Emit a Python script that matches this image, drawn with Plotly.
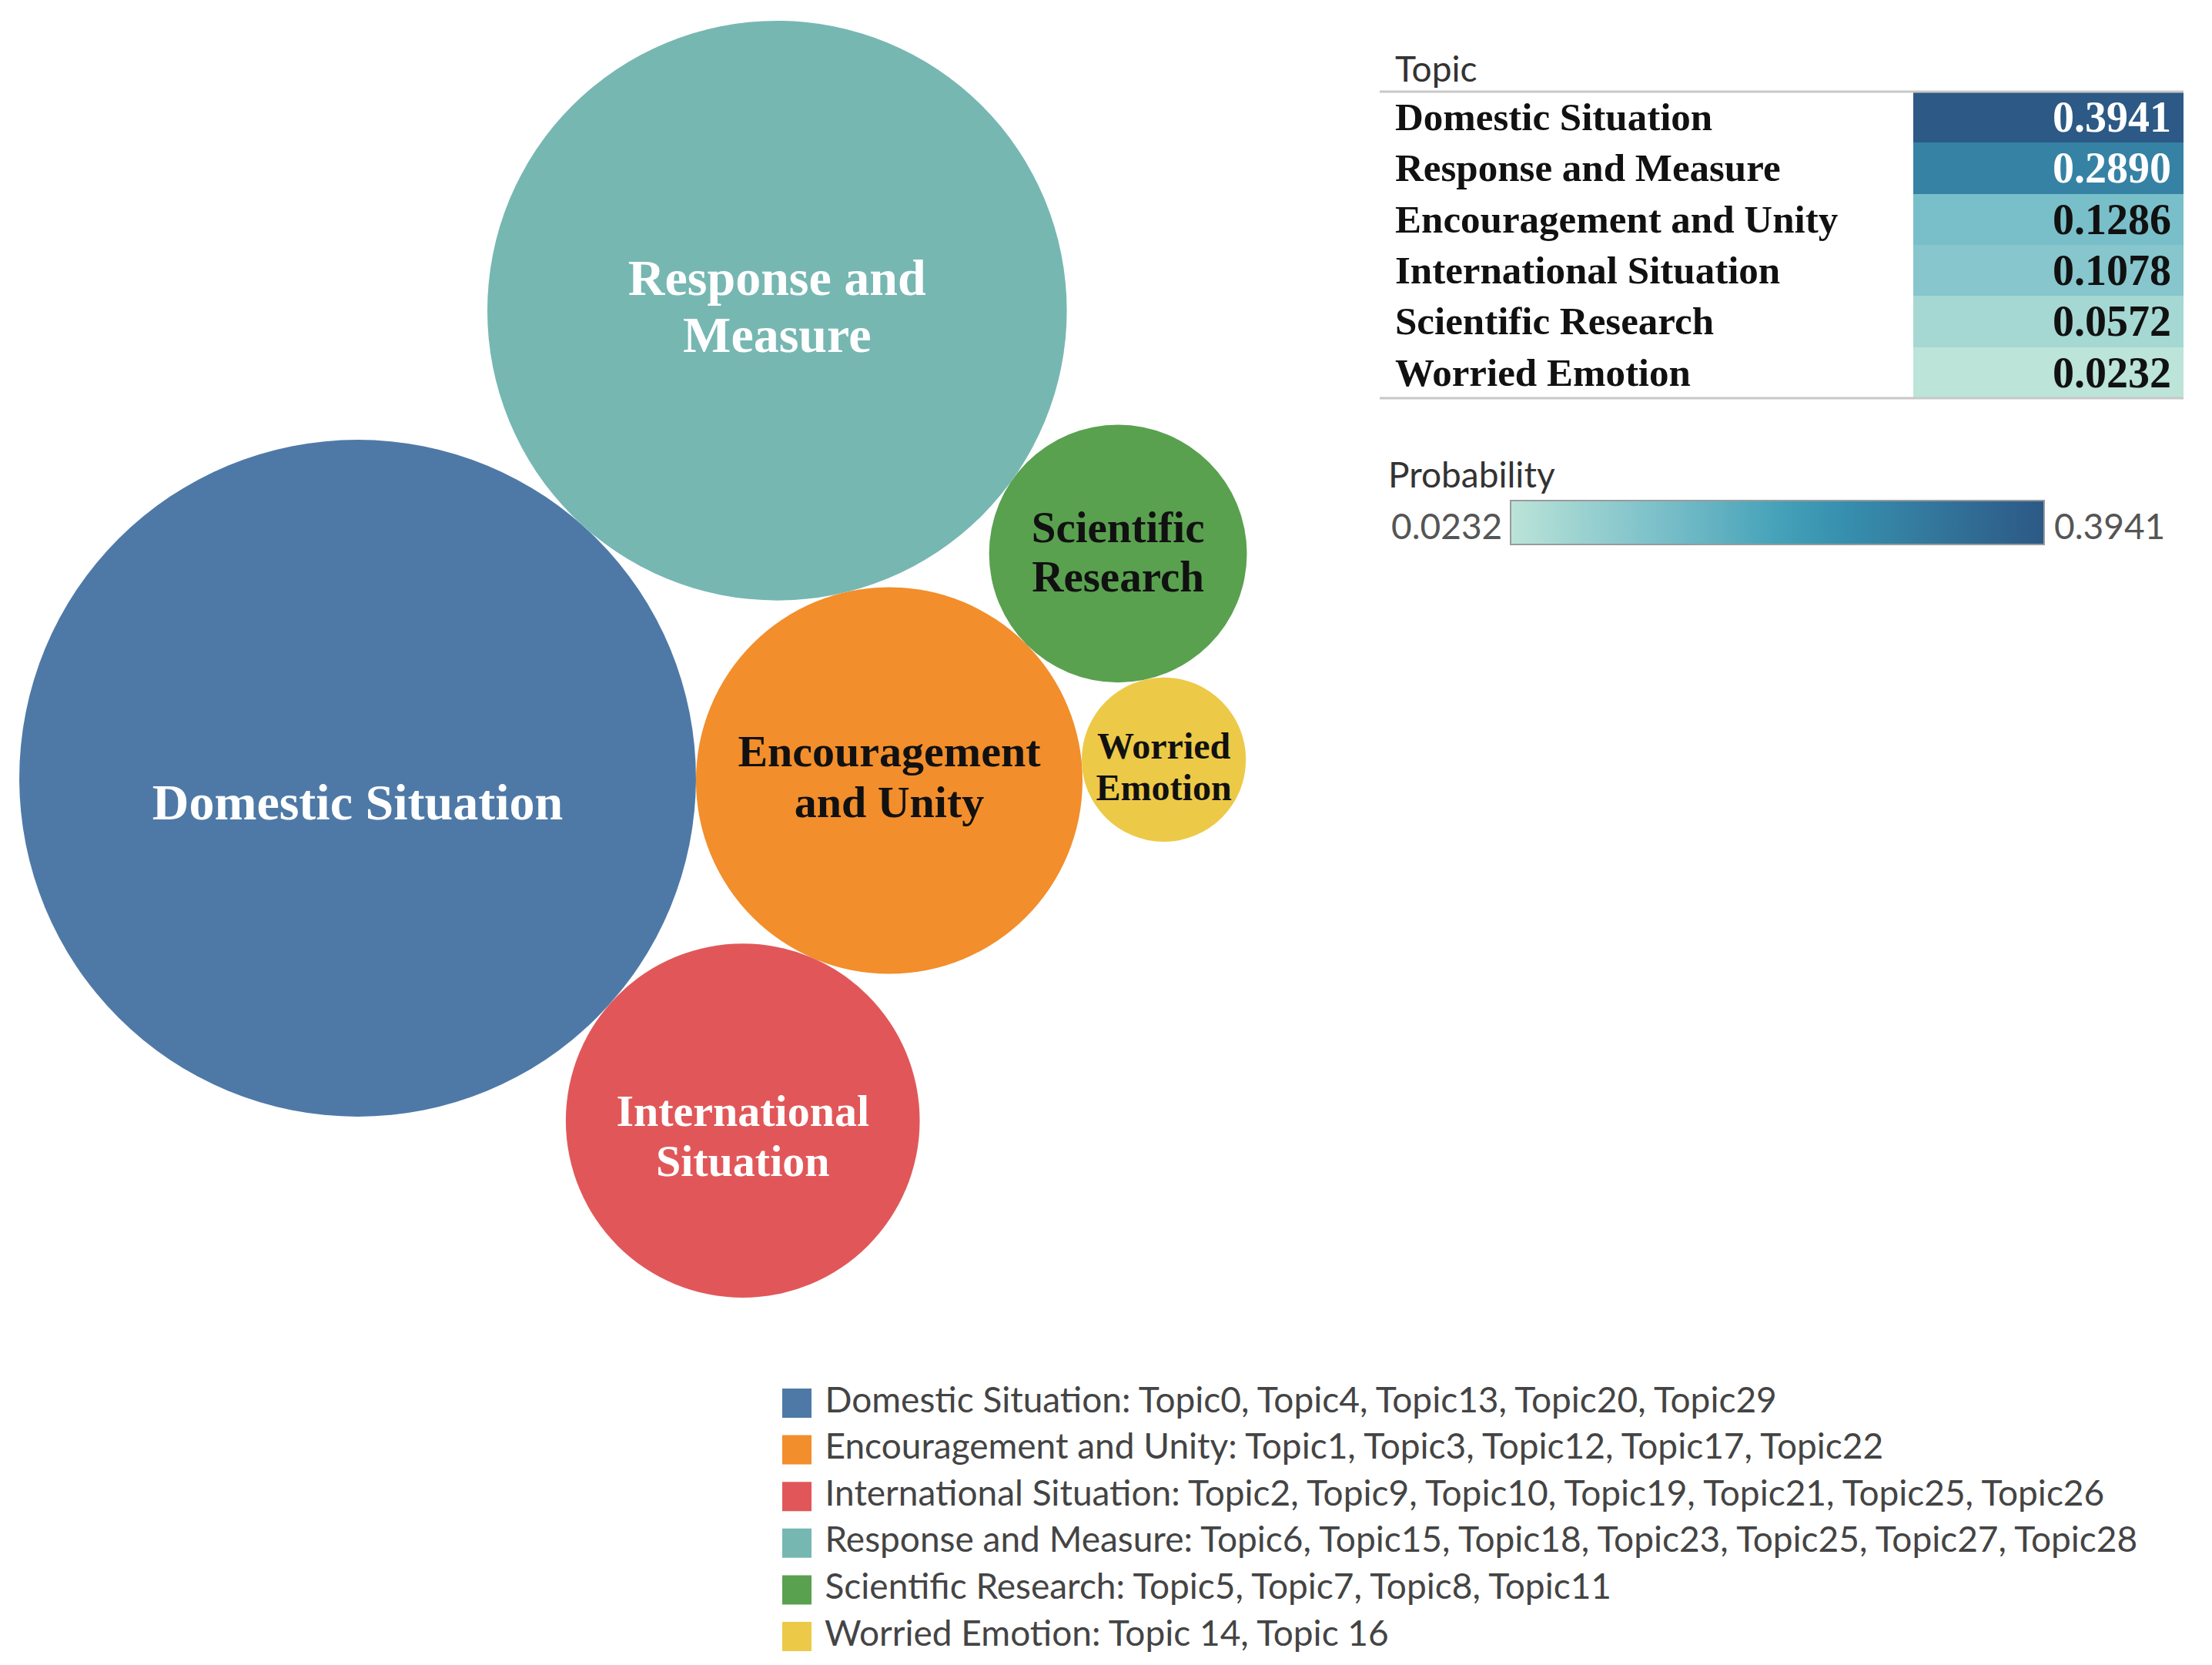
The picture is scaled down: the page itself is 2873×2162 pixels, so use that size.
import numpy as np
import plotly.graph_objects as go

# ---------------- data ----------------
topics = ["Domestic Situation", "Response and Measure", "Encouragement and Unity",
          "International Situation", "Scientific Research", "Worried Emotion"]
probability = [0.3941, 0.2890, 0.1286, 0.1078, 0.0572, 0.0232]
bubble_labels = ["Domestic Situation", "Response and<br>Measure", "Encouragement<br>and Unity",
                 "International<br>Situation", "Scientific<br>Research", "Worried<br>Emotion"]

legend_topics = ["Domestic Situation", "Encouragement and Unity", "International Situation",
                 "Response and Measure", "Scientific Research", "Worried Emotion"]
legend_members = ["Topic0, Topic4, Topic13, Topic20, Topic29",
                  "Topic1, Topic3, Topic12, Topic17, Topic22",
                  "Topic2, Topic9, Topic10, Topic19, Topic21, Topic25, Topic26",
                  "Topic6, Topic15, Topic18, Topic23, Topic25, Topic27, Topic28",
                  "Topic5, Topic7, Topic8, Topic11",
                  "Topic 14, Topic 16"]

# ---------------- style ----------------
W, H = 2873, 2162
topic_colors = {"Domestic Situation": "#4e79a7", "Response and Measure": "#76b7b2",
                "Encouragement and Unity": "#f28e2b", "International Situation": "#e15759",
                "Scientific Research": "#59a14f", "Worried Emotion": "#edc948"}
label_colors = {"Domestic Situation": "white", "Response and Measure": "white",
                "Encouragement and Unity": "#111111", "International Situation": "white",
                "Scientific Research": "#111111", "Worried Emotion": "#111111"}
label_sizes = {"Domestic Situation": 66, "Response and Measure": 66,
               "Encouragement and Unity": 58, "International Situation": 58,
               "Scientific Research": 57, "Worried Emotion": 48}
label_dy = {"Domestic Situation": 37, "Response and Measure": 0,
            "Encouragement and Unity": 0, "International Situation": 25,
            "Scientific Research": 3, "Worried Emotion": 14}
LINE_PITCH = 1.13
blue_teal = ["#bce4d8", "#9dd3d1", "#81c3cb", "#65b3c2", "#45a2b9",
             "#368fae", "#347da0", "#306a93", "#2c5985"]
colorscale = [[i / (len(blue_teal) - 1), c] for i, c in enumerate(blue_teal)]
SERIF = "Liberation Serif"
SANS = "Lato"
SANS_SIZE = 46

# ---------------- packed bubble layout (tangent placement) ----------------
K = 700.0  # pixel radius per sqrt(probability)
radius = {t: K * np.sqrt(p) for t, p in zip(topics, probability)}
centers = {}
D, R, E, I, S, Wo = topics
centers[D] = np.array([0.0, 0.0])
ang = np.deg2rad(48.1)
centers[R] = (radius[D] + radius[R]) * np.array([np.cos(ang), np.sin(ang)])


def place(a, b, c):
    """Place circle c touching a and b, on the right of a->b."""
    pa, pb = centers[a], centers[b]
    ra, rb = radius[a] + radius[c], radius[b] + radius[c]
    dv = pb - pa
    dist = np.linalg.norm(dv)
    u = dv / dist
    x = (ra ** 2 - rb ** 2 + dist ** 2) / (2 * dist)
    h = np.sqrt(max(ra ** 2 - x ** 2, 0.0))
    perp = np.array([u[1], -u[0]])
    centers[c] = pa + x * u + h * perp


place(D, R, E)
place(E, R, S)
place(E, S, Wo)
place(D, E, I)

anchor_x, anchor_y = 464.5, 1010.5
bx = [anchor_x + centers[t][0] for t in topics]
by = [anchor_y - centers[t][1] for t in topics]

fig = go.Figure()

# bubbles
fig.add_trace(go.Scatter(
    x=bx, y=by, mode="markers",
    marker=dict(size=[2 * radius[t] for t in topics], sizemode="diameter", sizeref=1,
                color=[topic_colors[t] for t in topics], line=dict(width=0), opacity=1),
    text=topics, customdata=probability,
    hovertemplate="%{text}: %{customdata:.4f}<extra></extra>",
    showlegend=False, xaxis="x", yaxis="y"))

# bubble labels, one text item per line for tight line spacing
lx, ly, lt, ls, lc = [], [], [], [], []
for t, lab, cx, cy in zip(topics, bubble_labels, bx, by):
    lines = lab.split("<br>")
    n = len(lines)
    pitch = LINE_PITCH * label_sizes[t]
    for j, line in enumerate(lines):
        lx.append(cx)
        ly.append(cy + label_dy[t] + (j - (n - 1) / 2) * pitch)
        lt.append("<b>%s</b>" % line)
        ls.append(label_sizes[t])
        lc.append(label_colors[t])
fig.add_trace(go.Scatter(
    x=lx, y=ly, mode="text", text=lt, textposition="middle center",
    textfont=dict(family=SERIF, size=ls, color=lc),
    hoverinfo="skip", showlegend=False, xaxis="x", yaxis="y"))

# legend (drawn as square markers + text)
leg_x0, leg_y0, leg_dy = 1035, 1822, 60.6
fig.add_trace(go.Scatter(
    x=[leg_x0] * len(legend_topics),
    y=[leg_y0 + i * leg_dy for i in range(len(legend_topics))],
    mode="markers+text",
    marker=dict(symbol="square", size=38, color=[topic_colors[t] for t in legend_topics],
                line=dict(width=0)),
    text=["\u00a0%s: %s" % (t, m) for t, m in zip(legend_topics, legend_members)],
    textposition="middle right",
    textfont=dict(family=SANS, size=SANS_SIZE, color="#444444"),
    hoverinfo="skip", showlegend=False, xaxis="x", yaxis="y"))

# table value column as heatmap
tab_x0, tab_x1 = 2485, 2836
tab_y0, tab_y1 = 119, 517
zmin, zmax = min(probability), max(probability)
fig.add_trace(go.Heatmap(
    x=["Probability"], y=topics, z=[[p] for p in probability],
    colorscale=colorscale, zmin=zmin, zmax=zmax, xgap=0, ygap=0,
    hovertemplate="%{y}: %{z:.4f}<extra></extra>",
    colorbar=dict(orientation="h", x=(1962 + 2655) / 2 / W, xanchor="center",
                  y=1 - 709 / H, yanchor="bottom", len=693, lenmode="pixels",
                  thickness=57, thicknessmode="pixels", outlinecolor="#9a9a9a",
                  outlinewidth=2, showticklabels=False, ticks="", xpad=0, ypad=0),
    xaxis="x2", yaxis="y2"))

annotations = []
annotations.append(dict(text="Topic", x=1810 / W, y=1 - 88 / H, xref="paper", yref="paper",
                        xanchor="left", yanchor="middle", showarrow=False,
                        font=dict(family=SANS, size=SANS_SIZE, color="#333333")))


def is_dark(v):
    return (v - zmin) / (zmax - zmin) > 0.6


for t, p in zip(topics, probability):
    annotations.append(dict(text="<b>%s</b>" % t, x=1810 / W, y=t, xref="paper", yref="y2",
                            xanchor="left", yanchor="middle", showarrow=False,
                            font=dict(family=SERIF, size=51, color="#111111")))
    annotations.append(dict(text="<b>%.4f</b>" % p, x=2822 / W, y=t, xref="paper", yref="y2",
                            xanchor="right", yanchor="middle", showarrow=False,
                            font=dict(family=SERIF, size=56,
                                      color="white" if is_dark(p) else "#111111")))

annotations.append(dict(text="Probability", x=1801 / W, y=1 - 616 / H, xref="paper",
                        yref="paper", xanchor="left", yanchor="middle", showarrow=False,
                        font=dict(family=SANS, size=SANS_SIZE, color="#333333")))
annotations.append(dict(text="%.4f" % zmin, x=1953 / W, y=1 - 682 / H, xref="paper",
                        yref="paper", xanchor="right", yanchor="middle", showarrow=False,
                        font=dict(family=SANS, size=SANS_SIZE, color="#555555")))
annotations.append(dict(text="%.4f" % zmax, x=2666 / W, y=1 - 682 / H, xref="paper",
                        yref="paper", xanchor="left", yanchor="middle", showarrow=False,
                        font=dict(family=SANS, size=SANS_SIZE, color="#555555")))

shapes = [
    dict(type="line", xref="paper", yref="paper", x0=1792 / W, x1=tab_x1 / W,
         y0=1 - tab_y0 / H, y1=1 - tab_y0 / H, line=dict(color="#c8c8c8", width=3)),
    dict(type="line", xref="paper", yref="paper", x0=1792 / W, x1=tab_x1 / W,
         y0=1 - tab_y1 / H, y1=1 - tab_y1 / H, line=dict(color="#c8c8c8", width=3)),
]

fig.update_layout(
    width=W, height=H, margin=dict(l=0, r=0, t=0, b=0),
    paper_bgcolor="white", plot_bgcolor="white",
    xaxis=dict(domain=[0, 1], range=[0, W], visible=False, fixedrange=True),
    yaxis=dict(domain=[0, 1], range=[H, 0], visible=False, fixedrange=True),
    xaxis2=dict(domain=[tab_x0 / W, tab_x1 / W], visible=False, anchor="y2"),
    yaxis2=dict(domain=[1 - tab_y1 / H, 1 - tab_y0 / H], visible=False, anchor="x2",
                autorange="reversed", categoryorder="array", categoryarray=topics),
    annotations=annotations, shapes=shapes, showlegend=False,
)

fig.write_html("out.html", config={"displayModeBar": False},
               post_script="document.body.style.margin='0';document.body.style.overflow='hidden';")
